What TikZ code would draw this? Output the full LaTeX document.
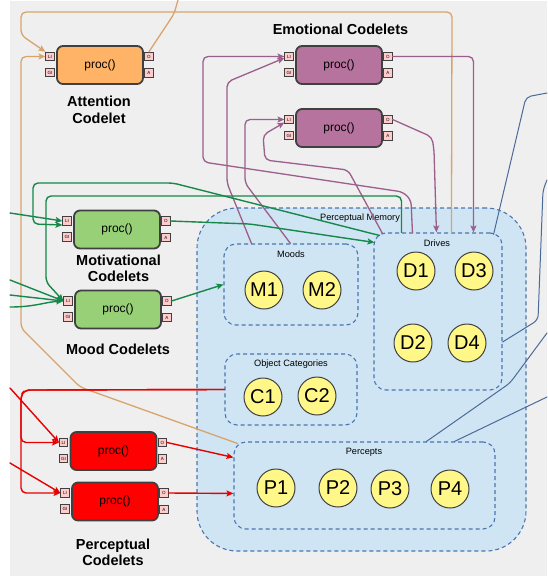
\documentclass[tikz,border=0pt]{standalone}
\usepackage{fontspec}
\setmainfont{Liberation Sans}
\usetikzlibrary{calc,arrows.meta}

\definecolor{bg}{HTML}{EFEFEF}
\definecolor{attfill}{HTML}{FFB366}
\definecolor{emofill}{HTML}{B5739D}
\definecolor{motfill}{HTML}{97D077}
\definecolor{perfill}{HTML}{FF0000}
\definecolor{portfill}{HTML}{FFCCCC}
\definecolor{boxline}{HTML}{404040}
\definecolor{memfill}{HTML}{CFE5F3}
\definecolor{memline}{HTML}{4A76B0}
\definecolor{itemfill}{HTML}{FFF788}
\definecolor{lnorange}{HTML}{D8A46C}
\definecolor{lnpurple}{HTML}{9C5E8A}
\definecolor{lngreen}{HTML}{16884A}
\definecolor{lnred}{HTML}{E60000}
\definecolor{lnblue}{HTML}{4C6A99}

\tikzset{
  codelet/.style={draw=boxline, line width=1.8pt, rounded corners=6pt,
    minimum width=86pt, minimum height=38pt, inner sep=0pt,
    font=\fontsize{12}{14}\selectfont},
  port/.style={draw=boxline, fill=portfill, line width=0.8pt,
    minimum size=8.5pt, inner sep=0pt, font=\fontsize{4.5}{5}\selectfont},
  title/.style={font=\bfseries\fontsize{14.5}{16.5}\selectfont, align=center},
  group/.style={draw=memline, fill=memfill, dash pattern=on 4pt off 3pt,
    line width=1.1pt, rounded corners=12pt, inner sep=0pt},
  grouplabel/.style={font=\fontsize{9.2}{11}\selectfont, inner sep=0pt},
  item/.style={circle, draw=boxline, fill=itemfill, line width=1pt,
    minimum size=38pt, inner sep=0pt, font=\fontsize{20}{22}\selectfont},
  link/.style={rounded corners=5pt, line cap=round},
  tip/.style={-{Stealth[length=7pt,width=6pt,inset=1.5pt]}},
  orangeln/.style={link, draw=lnorange, line width=1.3pt},
  purpleln/.style={link, draw=lnpurple, line width=1.3pt},
  greenln/.style={link, draw=lngreen, line width=1.4pt},
  redln/.style={link, draw=lnred, line width=1.4pt},
  blueln/.style={link, draw=lnblue, line width=1pt},
}

% a codelet box with its four ports
\newcommand{\mkcodelet}[3]{%
  \node[codelet, fill=#3] (#1) at (#2) {proc()};
  \node[port] (#1LI) at ($(#1.west)+(-6,-8.5)$) {LI};
  \node[port] (#1GI) at ($(#1.west)+(-6,7.5)$) {GI};
  \node[port] (#1O)  at ($(#1.east)+(5,-8.5)$) {O};
  \node[port] (#1A)  at ($(#1.east)+(5,8)$) {A};
}

\begin{document}
\begin{tikzpicture}[x=1pt,y=-1pt]
  \useasboundingbox (0,0) rectangle (547,576);
  \fill[white] (0,0) rectangle (547,576);
  \fill[bg] (10,1) rectangle (547,576);

  % perceptual memory and its groups
  \node[group, rounded corners=40pt, minimum width=329pt, minimum height=343pt] (pm) at (361.5,379.5) {};
  \node[grouplabel] (pmlabel) at (360,218) {Perceptual Memory};

  \node[group, minimum width=134pt, minimum height=81pt] (moods) at (291,284.5) {};
  \node[grouplabel] (moodslabel) at (291,254) {Moods};
  \node[item] (M1) at (264,290) {M1};
  \node[item] (M2) at (322,290) {M2};

  \node[group, minimum width=128pt, minimum height=157pt] (drives) at (438,311.5) {};
  \node[grouplabel] (driveslabel) at (437,243) {Drives};
  \node[item] (D1) at (416,271) {D1};
  \node[item] (D3) at (474,271) {D3};
  \node[item] (D2) at (413,343) {D2};
  \node[item] (D4) at (467,343) {D4};

  \node[group, minimum width=132pt, minimum height=71pt] (objcat) at (291,389.5) {};
  \node[grouplabel] (objcatlabel) at (291,364) {Object Categories};
  \node[item] (C1) at (263,397) {C1};
  \node[item] (C2) at (317,396) {C2};

  \node[group, minimum width=261pt, minimum height=87pt] (percepts) at (364.5,485.5) {};
  \node[grouplabel] (perceptslabel) at (364,452) {Percepts};
  \node[item] (P1) at (276,488) {P1};
  \node[item] (P2) at (338,488) {P2};
  \node[item] (P3) at (390,489) {P3};
  \node[item] (P4) at (450,489) {P4};

  % codelets
  \mkcodelet{att}{100,65}{attfill}
  \mkcodelet{emoA}{339,65}{emofill}
  \mkcodelet{emoB}{339,128}{emofill}
  \mkcodelet{mot}{117,229.5}{motfill}
  \mkcodelet{mood}{118,309.5}{motfill}
  \mkcodelet{perA}{113.5,451}{perfill}
  \mkcodelet{perB}{115,501.5}{perfill}

  \node[title] (atttitle) at (99,110) {Attention\\Codelet};
  \node[title] (emotitle) at (340.5,29) {Emotional Codelets};
  \node[title] (mottitle) at (118.5,268.5) {Motivational\\Codelets};
  \node[title] (moodtitle) at (118,349) {Mood Codelets};
  \node[title] (pertitle) at (113,552.5) {Perceptual\\Codelets};

  % free ends at the border
  \coordinate (attout) at (178,0);
  \coordinate (motin) at (10,213);
  \coordinate (moodinA) at (10,280);
  \coordinate (moodinB) at (10,295);
  \coordinate (moodinC) at (10,307);
  \coordinate (perinA) at (10,388);
  \coordinate (perinB) at (10,463);
  \coordinate (blueA) at (547,93);
  \coordinate (blueB) at (547,180);
  \coordinate (blueC) at (547,333);
  \coordinate (blueD) at (547,397);

  % attention links
  \draw[orangeln, tip] ($(drives.north west)+(78,0)$) -- (452,12) -- (21,12) -- (21,35) -- (attLI.north west);
  \draw[orangeln, tip] ($(percepts.north west)+(4,2)$) -- (80,387) -- (21,328) |- (attLI.west);
  \draw[orangeln] (attO.north) -- (174,14) -- (attout);

  % emotional links
  \draw[purpleln, tip] (emoAO.east) -| ($(drives.north west)+(100,0)$);
  \draw[purpleln, tip] (emoBO.east) -- (432,137) -- (434,150) -- ($(drives.north west)+(63,0)$);
  \draw[purpleln, tip] ($(drives.north west)+(39,0)$) -- (411,200) -- (403,192) -- (203,162) |- (emoALI.west);
  \draw[purpleln, tip] ($(moods.north west)+(28,0)$) -- (227,183) -- (227,82) -- ($(emoALI.west)+(0,1.5)$);
  \draw[purpleln, tip] ($(moods.north west)+(67,0)$) -- (245,183) |- (emoBLI.west);
  \draw[purpleln, tip] ($(drives.north west)+(9,1)$) -- (348,170) -- (265,160) -- (263,135) -- ($(emoBLI.west)+(0,3)$);

  % motivational links
  \draw[greenln, tip] ($(drives.north west)+(6,3)$) -- (173,183) -- (33,183) -- (33,224) -- ($(motLI.west)+(0,4)$);
  \draw[greenln, tip] (motin) -- (motLI.west);
  \draw[greenln, tip] (motO.east) -- (250,224) -- ($(drives.north west)+(1,10)$);

  % mood links
  \draw[greenln, tip] ($(drives.north west)+(28,0)$) |- (46,196) -- (46,282) -- (moodLI.west);
  \draw[greenln, tip] (moodinA) -- (moodLI.west);
  \draw[greenln, tip] (moodinB) -- (moodLI.west);
  \draw[greenln, tip] (moodinC) .. controls (35,307) and (45,302) .. (moodLI.west);
  \draw[greenln, tip] (moodO.east) -- (moods.west);

  % perceptual links
  \draw[redln, tip] (objcat.west) -- (25,390) -- (21,395) |- (perALI.west);
  \draw[redln, tip] (objcat.west) -- (25,390) -- (21,395) |- (perBLI.west);
  \draw[redln, tip] (perinA) -- (perALI.west);
  \draw[redln, tip] (perinB) -- (perBLI.west);
  \draw[redln, tip] (perAO.east) -- ($(percepts.north west)+(0,16)$);
  \draw[redln, tip] (perBO.east) -- ($(percepts.north west)+(0,52)$);

  % links leaving to the right
  \draw[blueln] ($(drives.north east)+(-9,2)$) -- (526,97) -- (blueA);
  \draw[blueln] ($(drives.east)+(0,30.5)$) -- (538,320) -- (543,190) -- (blueB);
  \draw[blueln] ($(percepts.north west)+(193,0)$) -- (510,383) -- (blueC);
  \draw[blueln] ($(percepts.north west)+(221,0)$) -- (blueD);
\end{tikzpicture}
\end{document}
